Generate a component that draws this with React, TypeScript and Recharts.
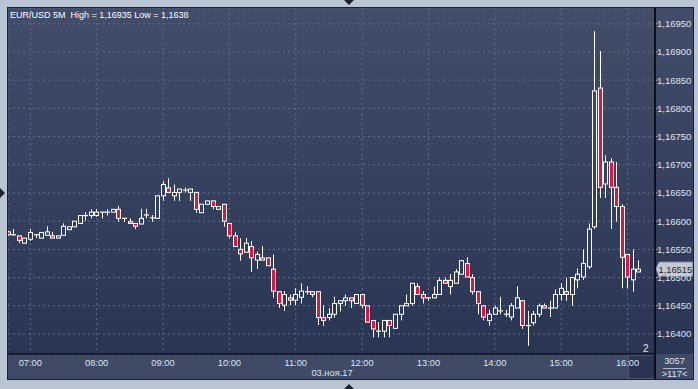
import React from 'react';
import { ComposedChart, Bar, XAxis, YAxis, CartesianGrid, ReferenceLine } from 'recharts';

// 5 minute candles, slot 0 = 07:00, first candle is 06:40
const firstSlot = -4;

const opens = [
  1.16581, 1.16576, 1.16574, 1.16561, 1.16568, 1.16575, 1.1657, 1.16575, 1.16574, 1.1657,
  1.16575, 1.16585, 1.1659, 1.16596, 1.1661, 1.1661, 1.1661, 1.16616, 1.16616, 1.16616,
  1.16621, 1.16605, 1.16599, 1.16596, 1.16595, 1.16611, 1.16606, 1.16605, 1.16645, 1.16659,
  1.16645, 1.16651, 1.16655, 1.16651, 1.16651, 1.16615, 1.1663, 1.16636, 1.16621, 1.1663,
  1.16596, 1.16574, 1.1655, 1.16545, 1.16555, 1.16531, 1.16535, 1.16535, 1.16515, 1.16475,
  1.16451, 1.16464, 1.1646, 1.16465, 1.16475, 1.16475, 1.16475, 1.16429, 1.16429, 1.16435,
  1.16454, 1.16459, 1.16464, 1.16454, 1.1647, 1.1645, 1.16424, 1.16405, 1.16405, 1.16424,
  1.1641, 1.16435, 1.1645, 1.16454, 1.16484, 1.1647, 1.16464, 1.16464, 1.1647, 1.16495,
  1.16484, 1.1649, 1.16506, 1.16525, 1.165, 1.16475, 1.1645, 1.16424, 1.16435, 1.16441,
  1.16435, 1.1643, 1.16446, 1.16459, 1.16415, 1.1642, 1.16435, 1.1645, 1.16446, 1.16446,
  1.1647, 1.16475, 1.1647, 1.16496, 1.16501, 1.16519, 1.1659, 1.16836, 1.16666, 1.16705,
  1.1666, 1.16626, 1.16541, 1.16496, 1.1651,
];
const highs = [
  1.16583, 1.16586, 1.16574, 1.1657, 1.16586, 1.16576, 1.1658, 1.16591, 1.16581, 1.16574,
  1.16596, 1.1659, 1.166, 1.1661, 1.16616, 1.16621, 1.16621, 1.16616, 1.16621, 1.16621,
  1.16627, 1.16605, 1.16605, 1.16596, 1.16622, 1.16622, 1.16611, 1.16645, 1.16671, 1.16676,
  1.16665, 1.16657, 1.1666, 1.16657, 1.16651, 1.1663, 1.16636, 1.16636, 1.16626, 1.1663,
  1.16596, 1.1658, 1.1657, 1.1657, 1.16565, 1.16546, 1.16556, 1.16535, 1.16541, 1.16475,
  1.16476, 1.1647, 1.16481, 1.1649, 1.16485, 1.16475, 1.16475, 1.16451, 1.16446, 1.16466,
  1.16459, 1.1647, 1.16464, 1.1647, 1.1647, 1.1645, 1.16424, 1.16421, 1.16424, 1.16424,
  1.16435, 1.1645, 1.1647, 1.1649, 1.1649, 1.16476, 1.16464, 1.16484, 1.165, 1.165,
  1.16506, 1.16515, 1.1653, 1.16536, 1.16506, 1.16475, 1.1645, 1.16443, 1.1645, 1.16466,
  1.16443, 1.16455, 1.16485, 1.16459, 1.16441, 1.16441, 1.16454, 1.16454, 1.16459, 1.16479,
  1.1649, 1.165, 1.165, 1.16516, 1.1655, 1.16596, 1.16937, 1.16902, 1.16717, 1.16712,
  1.16705, 1.1663, 1.16541, 1.1655, 1.16531,
];
const lows = [
  1.16574, 1.16574, 1.16561, 1.16561, 1.16565, 1.1657, 1.1657, 1.16575, 1.1657, 1.1657,
  1.16575, 1.16585, 1.1659, 1.16596, 1.16601, 1.16605, 1.16608, 1.16605, 1.1661, 1.16616,
  1.16599, 1.16599, 1.16596, 1.16586, 1.16595, 1.16605, 1.16599, 1.16605, 1.16636, 1.16651,
  1.16636, 1.16636, 1.16651, 1.16636, 1.16615, 1.16615, 1.1663, 1.16621, 1.16621, 1.1659,
  1.1657, 1.16555, 1.1653, 1.16545, 1.1651, 1.16515, 1.16531, 1.16521, 1.16464, 1.16446,
  1.16441, 1.16451, 1.16451, 1.16454, 1.1647, 1.16465, 1.16416, 1.16414, 1.16424, 1.16429,
  1.1644, 1.1645, 1.16446, 1.16454, 1.16446, 1.16421, 1.16394, 1.16394, 1.16394, 1.16394,
  1.1641, 1.16424, 1.1645, 1.1645, 1.1647, 1.16454, 1.16459, 1.16464, 1.1647, 1.1649,
  1.1647, 1.1649, 1.16506, 1.16501, 1.1647, 1.16435, 1.16424, 1.16415, 1.16435, 1.16435,
  1.1643, 1.16424, 1.16446, 1.16409, 1.16379, 1.16415, 1.1643, 1.16446, 1.1643, 1.16446,
  1.16459, 1.16459, 1.1645, 1.16481, 1.16496, 1.16515, 1.16586, 1.16641, 1.16641, 1.16586,
  1.16599, 1.16481, 1.16481, 1.16475, 1.1651,
];
const closes = [
  1.16576, 1.16576, 1.16566, 1.1657, 1.1658, 1.16576, 1.1658, 1.16581, 1.1657, 1.16574,
  1.16591, 1.1659, 1.166, 1.1661, 1.1661, 1.16616, 1.16616, 1.16616, 1.16616, 1.16621,
  1.16605, 1.16605, 1.16596, 1.16591, 1.16605, 1.16611, 1.16606, 1.16645, 1.16665, 1.16651,
  1.16651, 1.16657, 1.16655, 1.16657, 1.16621, 1.1663, 1.16636, 1.16626, 1.16626, 1.166,
  1.16574, 1.16555, 1.16542, 1.16561, 1.16535, 1.16541, 1.16531, 1.16521, 1.16476, 1.16454,
  1.1647, 1.1646, 1.1647, 1.16476, 1.16475, 1.1647, 1.16429, 1.16424, 1.16435, 1.16454,
  1.16459, 1.16464, 1.16459, 1.1647, 1.16451, 1.16421, 1.16409, 1.16405, 1.16424, 1.16415,
  1.16435, 1.1645, 1.16454, 1.1649, 1.1647, 1.16464, 1.16464, 1.1647, 1.16495, 1.1649,
  1.16495, 1.1651, 1.1653, 1.16501, 1.16475, 1.16454, 1.1643, 1.16435, 1.16446, 1.16441,
  1.16435, 1.1645, 1.16464, 1.16415, 1.16415, 1.16435, 1.1645, 1.16446, 1.16446, 1.1647,
  1.16481, 1.1647, 1.165, 1.16506, 1.16525, 1.16586, 1.16831, 1.1666, 1.16705, 1.1666,
  1.16626, 1.16536, 1.16501, 1.16515, 1.16515,
];

const hourLabels = ['07:00', '08:00', '09:00', '10:00', '11:00', '12:00', '13:00', '14:00', '15:00', '16:00'];
const priceTicks = [1.164, 1.1645, 1.165, 1.1655, 1.166, 1.1665, 1.167, 1.1675, 1.168, 1.1685, 1.169, 1.1695];
const lastPrice = 1.16515;

const data = opens.map((o, i) => ({
  slot: firstSlot + i,
  open: o,
  high: highs[i],
  low: lows[i],
  close: closes[i],
  range: [lows[i], highs[i]],
}));

const hourSlots = hourLabels.map((_, i) => i * 12);
const fmt = (v: number) => v.toFixed(5).replace('.', ',');
const font = '"Liberation Sans", Arial, sans-serif';
const txt = '#dde4ef';

const Candle = (props: any) => {
  const { x, y, width, height, payload } = props;
  if (!payload) return null;
  const { open, close, high, low } = payload;
  const top = Math.min(y, y + height);
  const span = Math.abs(height);
  const k = span / (high - low);
  const yOf = (v: number) => top + (high - v) * k;
  const cx = Math.floor(x + width / 2) + 0.5;
  const up = close >= open;
  const bTop = yOf(Math.max(open, close));
  const bBot = yOf(Math.min(open, close));
  return (
    <g>
      <line x1={cx} x2={cx} y1={top} y2={top + span} stroke="#fff" strokeWidth={1} />
      {bBot - bTop < 1 ? (
        <line x1={cx - 2.5} x2={cx + 2.5} y1={bTop} y2={bTop} stroke="#fff" strokeWidth={1.2} />
      ) : (
        <rect
          x={cx - 2}
          y={bTop}
          width={4}
          height={bBot - bTop}
          fill={up ? 'url(#plotBg)' : '#e3133f'}
          stroke="#fff"
          strokeWidth={1}
        />
      )}
    </g>
  );
};

const PriceTick = ({ x, y, payload }: any) => (
  <text x={x - 1} y={y} dy={3.5} fill={txt} fontSize={9.5} fontFamily={font} textAnchor="start">
    {fmt(payload.value)}
  </text>
);

const TimeTick = ({ x, y, payload }: any) => (
  <text x={x} y={y} dy={12} fill={txt} fontSize={9.3} fontFamily={font} textAnchor="middle">
    {hourLabels[Math.round(payload.value / 12)]}
  </text>
);

// grey price marker on the axis, pointing at the last close
const PriceBox = ({ viewBox }: any) => {
  if (!viewBox) return null;
  const ax = viewBox.x + viewBox.width;
  const y = viewBox.y;
  return (
    <g>
      <polygon
        points={`${ax + 1},${y} ${ax + 4},${y - 7} ${ax + 37.5},${y - 7} ${ax + 37.5},${y + 7} ${ax + 4},${y + 7}`}
        fill="#c3cad6"
        stroke="#8e98aa"
        strokeWidth={1}
      />
      <text x={ax + 3.5} y={y} dy={3.5} fill="#1d2538" fontSize={9.3} fontFamily={font}>
        {fmt(lastPrice)}
      </text>
    </g>
  );
};

const Tri = ({ left, top, points }: { left: number; top: number; points: string }) => (
  <svg style={{ position: 'absolute', left, top }} width={10} height={10}>
    <polygon points={points} fill="#1c2231" />
  </svg>
);

export default function App() {
  return (
    <div style={{ position: 'fixed', left: 0, top: 0, width: 698, height: 389, background: '#bac5d4', overflow: 'hidden', fontFamily: font }}>
      <div style={{ position: 'absolute', left: 7, top: 7, width: 687, height: 373, background: '#1a2030' }} />
      <div style={{ position: 'absolute', left: 8, top: 8, width: 685, height: 346, background: 'linear-gradient(#414d69, #2a3554)' }} />
      <div style={{ position: 'absolute', left: 8, top: 354, width: 685, height: 25, background: '#3e4a66' }} />
      <div style={{ position: 'absolute', left: 628, top: 355, width: 27, height: 24, background: '#2b3551', boxShadow: 'inset 0 0 0 1px #4a5672' }} />

      <div style={{ position: 'absolute', left: 8, top: 8 }}>
        <ComposedChart width={685} height={371} data={data} margin={{ top: 0, right: 0, bottom: 0, left: 0 }}>
          <defs>
            <linearGradient id="plotBg" x1={0} y1={0} x2={0} y2={346} gradientUnits="userSpaceOnUse">
              <stop offset="0%" stopColor="#414d69" />
              <stop offset="100%" stopColor="#2a3554" />
            </linearGradient>
          </defs>
          <CartesianGrid stroke="#5e6b8a" strokeDasharray="2 3" />
          <XAxis
            dataKey="slot"
            type="number"
            domain={[-4.03, 112.97]}
            allowDataOverflow
            ticks={hourSlots}
            interval={0}
            height={25}
            tickSize={0}
            tickMargin={0}
            tickLine={false}
            axisLine={{ stroke: '#0c101b', strokeWidth: 1.5 }}
            tick={<TimeTick />}
          />
          <YAxis
            orientation="right"
            width={38}
            domain={[1.163645, 1.16978]}
            allowDataOverflow
            ticks={priceTicks}
            interval={0}
            tickSize={3}
            tickMargin={0}
            tickLine={{ stroke: '#8fa1c2' }}
            axisLine={{ stroke: '#0c101b', strokeWidth: 1.5 }}
            tick={<PriceTick />}
          />
          <Bar dataKey="range" barSize={4} isAnimationActive={false} shape={(p: any) => <Candle {...p} />} />
          <ReferenceLine y={lastPrice} stroke="none" label={<PriceBox />} />
        </ComposedChart>
      </div>

      <div style={{ position: 'absolute', left: 654, top: 8, width: 1.5, height: 371, background: '#0c101b' }} />
      <div style={{ position: 'absolute', left: 10, top: 9, color: '#ffffff', fontSize: 9, lineHeight: '12px', whiteSpace: 'nowrap' }}>
        EUR/USD 5M&nbsp; High = 1,16935 Low = 1,1638
      </div>
      <div style={{ position: 'absolute', left: 282, width: 100, top: 368, textAlign: 'center', color: txt, fontSize: 9.3, lineHeight: '11px' }}>
        03.ноя.17
      </div>
      <div style={{ position: 'absolute', left: 643, top: 343, color: txt, fontSize: 10, lineHeight: '11px' }}>2</div>
      <div style={{ position: 'absolute', left: 656, width: 37, top: 356, textAlign: 'center', color: txt, fontSize: 9.3, lineHeight: '11px' }}>
        <div style={{ borderBottom: '1px solid #aab6cc', margin: '0 7px', paddingBottom: 1 }}>3057</div>
        <div>&gt;117&lt;</div>
      </div>

      <Tri left={344} top={0} points="0,0 10,0 5,5" />
      <Tri left={344} top={383} points="0,6 10,6 5,1" />
      <Tri left={0} top={188} points="0,0 5,5 0,10" />
    </div>
  );
}
